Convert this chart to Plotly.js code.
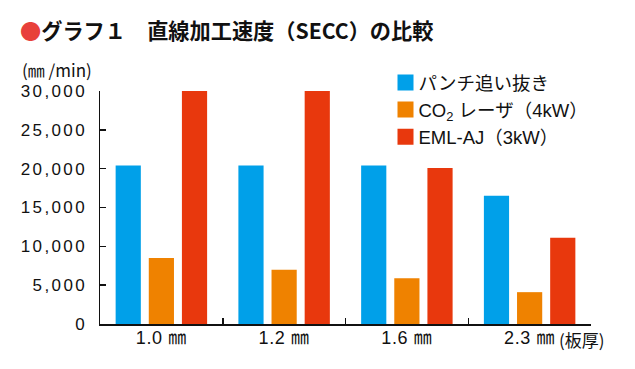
<!DOCTYPE html>
<html>
<head>
<meta charset="utf-8">
<script src="https://cdn.plot.ly/plotly-3.0.1.min.js"></script>
<style>
  html, body { margin: 0; padding: 0; background: #fff; overflow: hidden; width: 635px; height: 369px; }
  #chart { width: 635px; height: 369px; }
  .ytick text { letter-spacing: 2.4px; }
  .xtick text { letter-spacing: 0.6px; }
  .legend .legendpoints path { d: path('M35,8H19V-8H35Z'); transform: none; }
</style>
</head>
<body>
<div id="chart"></div>
<script>
const categories = ['1.0 ㎜', '1.2 ㎜', '1.6 ㎜', '2.3 ㎜'];
const seriesNames = ['パンチ追い抜き', 'CO<sub>2</sub> レーザ（4kW）', 'EML-AJ（3kW）'];
const punchValues = [20400, 20400, 20400, 16500];
const co2Values = [8500, 7000, 5900, 4100];
const emlValues = [30000, 30000, 20100, 11100];
const colors = ['#00a0e9', '#ef8200', '#e8380d'];

const FONT = "'Liberation Sans', 'Noto Sans CJK JP', sans-serif";
const CJK = "'Noto Sans CJK JP', 'Liberation Sans', sans-serif";

const allValues = [punchValues, co2Values, emlValues];
const data = allValues.map((vals, i) => ({
  type: 'bar',
  name: seriesNames[i],
  x: categories,
  y: vals,
  marker: { color: colors[i], line: { width: 0 } },
  hoverinfo: 'none'
}));

const L = 100, R = 44, T = 91, B = 45;
const PW = 635 - L - R, PH = 369 - T - B;

const layout = {
  width: 635,
  height: 369,
  margin: { l: L, r: R, t: T, b: B, pad: 0 },
  paper_bgcolor: '#ffffff',
  plot_bgcolor: '#ffffff',
  font: { family: FONT, size: 17, color: '#111' },
  barmode: 'group',
  bargap: 0.19,
  bargroupgap: 0.24,
  title: {
    text: "<span style='color:#e8403a'>●</span><b>グラフ１　直線加工速度（SECC）の比較</b>",
    font: { family: CJK, size: 21.2, color: '#111' },
    xref: 'container', x: 20 / 635, xanchor: 'left',
    yref: 'container', y: 1 - 32 / 369, yanchor: 'middle'
  },
  xaxis: {
    type: 'category',
    showline: true, linecolor: '#111', linewidth: 1.5,
    ticks: 'inside', tickson: 'boundaries', ticklen: 6, tickwidth: 1.5, tickcolor: '#111',
    showgrid: false, zeroline: false,
    tickfont: { family: FONT, size: 18, color: '#111' },
    ticklabelstandoff: -3,
    fixedrange: true
  },
  yaxis: {
    range: [0, 30000],
    dtick: 5000, tick0: 0,
    tickformat: ',',
    showline: true, linecolor: '#111', linewidth: 1.5,
    ticks: 'inside', ticklen: 6, tickwidth: 1.5, tickcolor: '#111',
    showgrid: false, zeroline: false,
    tickfont: { family: FONT, size: 17, color: '#111' },
    ticklabelstandoff: 8,
    fixedrange: true
  },
  legend: {
    x: (378.5 - L) / PW, xanchor: 'left',
    y: (324 - 64) / PH, yanchor: 'top',
    bgcolor: 'rgba(255,255,255,0)',
    font: { family: FONT, size: 18.5, color: '#111' },
    traceorder: 'normal',
    itemclick: false, itemdoubleclick: false
  },
  showlegend: true,
  annotations: [
    {
      text: '(㎜ /min)',
      xref: 'paper', yref: 'paper',
      x: (20 - L) / PW, xanchor: 'left',
      y: (324 - 70) / PH, yanchor: 'middle',
      showarrow: false,
      font: { family: CJK, size: 17, color: '#111' }
    },
    {
      text: '(板厚)',
      xref: 'paper', yref: 'paper',
      x: (557 - L) / PW, xanchor: 'left',
      y: (324 - 339.5) / PH, yanchor: 'middle',
      showarrow: false,
      font: { family: CJK, size: 17, color: '#111' }
    }
  ]
};

Plotly.newPlot('chart', data, layout, { staticPlot: true, displayModeBar: false });
</script>
</body>
</html>
